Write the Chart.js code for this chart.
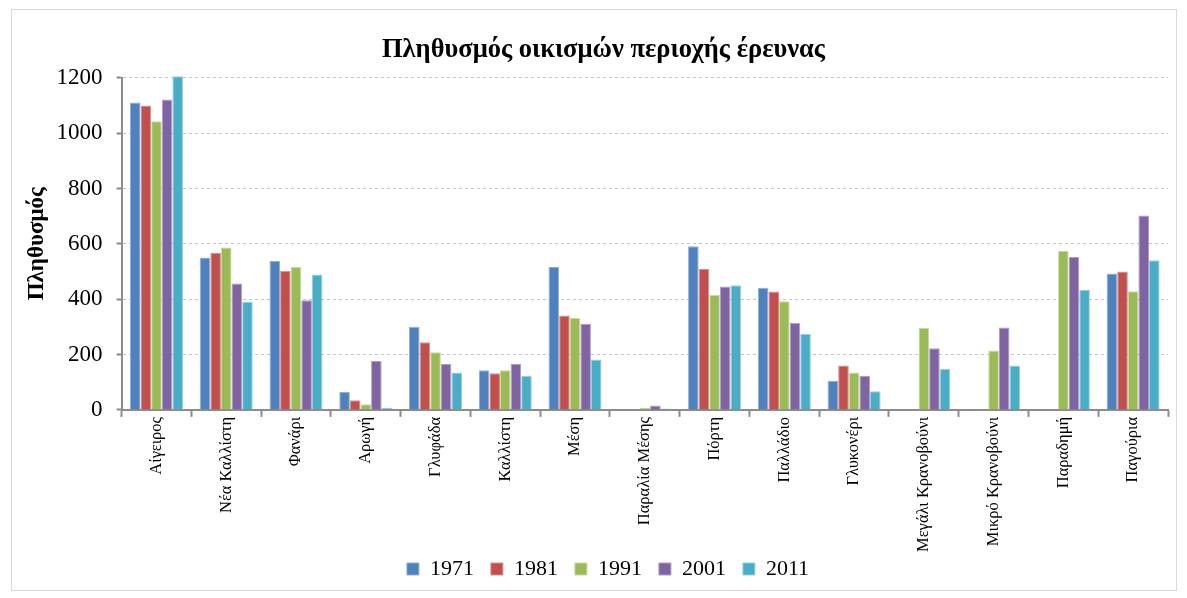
<!DOCTYPE html>
<html>
<head>
<meta charset="utf-8">
<script src="https://cdn.jsdelivr.net/npm/chart.js@4/dist/chart.umd.min.js"></script>
<style>
    html, body { margin: 0; padding: 0; background: #fff; }
    #wrap {
        position: absolute; left: 11px; top: 9px;
        width: 1166px; height: 582px;
        border: 1px solid #d9d9d9; box-sizing: border-box;
    }
</style>
</head>
<body>
<div id="wrap"><canvas id="chart"></canvas></div>
<script>
// Settlements of the study area
const villages = ['Αίγειρος', 'Νέα Καλλίστη', 'Φανάρι', 'Αρωγή', 'Γλυφάδα', 'Καλλίστη', 'Μέση',
    'Παραλία Μέσης', 'Πόρτη', 'Παλλάδιο', 'Γλυκονέρι', 'Μεγάλι Κρανοβούνι', 'Μικρό Κρανοβούνι',
    'Παραδημή', 'Παγούρια'];

// Census population per year (null = no settlement recorded)
const pop1971 = [1111, 551, 539, 65, 300, 143, 516, null, 591, 441, 105, null, null, null, 493];
const pop1981 = [1100, 568, 503, 35, 244, 132, 341, null, 509, 428, 160, null, null, null, 500];
const pop1991 = [1043, 587, 516, 20, 208, 143, 332, 8, 415, 393, 135, 297, 215, 575, 429];
const pop2001 = [1122, 457, 396, 177, 166, 166, 311, 16, 446, 315, 123, 223, 298, 552, 702];
const pop2011 = [1206, 391, 489, 8, 135, 122, 182, 5, 450, 274, 67, 148, 160, 434, 541];

const yearLabels = ['1971', '1981', '1991', '2001', '2011'];
const colors = ['#4F81BD', '#C0504D', '#9BBB59', '#8064A2', '#4BACC6'];
const edges = ['#8eaedb', '#dc8e8c', '#c6dc9a', '#b09cc8', '#93d2e2'];
const series = [pop1971, pop1981, pop1991, pop2001, pop2011];

const serif = '"Liberation Serif", "Times New Roman", serif';

const datasets = series.map((vals, i) => ({
    label: yearLabels[i],
    data: vals,
    backgroundColor: colors[i],
    borderColor: edges[i],
    borderWidth: 1,
    clip: false
}));

// nudge title and legend a little to the right of the canvas centre
const shiftHeader = {
    id: 'shiftHeader',
    afterLayout(chart) {
        if (chart.titleBlock) { chart.titleBlock.left += 12; chart.titleBlock.right += 12; }
        if (chart.legend) { chart.legend.left += 22; chart.legend.right += 22; }
    }
};

// keep the legend rows tight but spaced like the original
const legendLabels = chart =>
    Chart.defaults.plugins.legend.labels.generateLabels(chart)
        .map(item => Object.assign(item, { text: item.text + '\u2002' }));

const ctx = document.getElementById('chart').getContext('2d');
new Chart(ctx, {
    type: 'bar',
    data: { labels: villages, datasets: datasets },
    plugins: [shiftHeader],
    options: {
        responsive: true,
        maintainAspectRatio: false,
        animation: false,
        layout: { padding: { left: 3, right: 8, top: 0, bottom: 0 } },
        datasets: { bar: { categoryPercentage: 0.76, barPercentage: 1.0 } },
        plugins: {
            title: {
                display: true,
                text: 'Πληθυσμός οικισμών περιοχής έρευνας',
                color: '#000',
                font: { family: serif, size: 26.5, weight: 'bold' },
                padding: { top: 24, bottom: 12 }
            },
            legend: {
                position: 'bottom',
                labels: {
                    color: '#000',
                    font: { family: serif, size: 22 },
                    boxWidth: 12,
                    boxHeight: 12,
                    padding: 6,
                    generateLabels: legendLabels
                }
            },
            tooltip: { enabled: false }
        },
        scales: {
            x: {
                grid: {
                    drawOnChartArea: false,
                    drawTicks: true,
                    tickLength: 7,
                    tickColor: '#8c8c8c',
                    tickWidth: 2
                },
                border: { display: true, color: '#8c8c8c', width: 2 },
                ticks: {
                    color: '#000',
                    font: { family: serif, size: 16.5 },
                    minRotation: 90,
                    maxRotation: 90,
                    autoSkip: false,
                    padding: 0
                }
            },
            y: {
                min: 0,
                max: 1200,
                ticks: {
                    stepSize: 200,
                    color: '#000',
                    font: { family: serif, size: 23 },
                    padding: 14,
                    callback: v => String(v)
                },
                grid: {
                    color: '#c4c4c4',
                    lineWidth: 1,
                    drawTicks: true,
                    tickLength: 5,
                    tickColor: '#8c8c8c',
                    tickWidth: 2,
                    tickBorderDash: []
                },
                // border.dash sets the dash of the horizontal grid lines
                border: { display: true, color: '#8c8c8c', width: 2, dash: [3, 3] },
                title: {
                    display: true,
                    text: 'Πληθυσμός',
                    color: '#000',
                    font: { family: serif, size: 23, weight: 'bold' },
                    padding: { top: 8, bottom: -8 }
                }
            }
        }
    }
});
</script>
</body>
</html>
